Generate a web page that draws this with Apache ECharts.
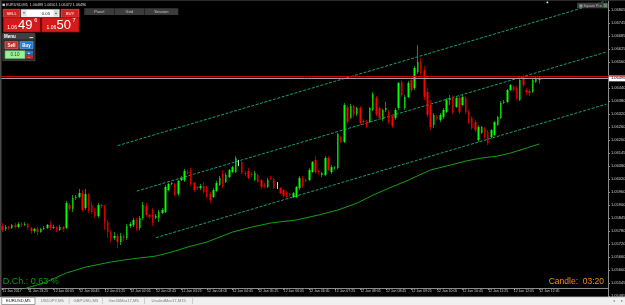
<!DOCTYPE html>
<html><head><meta charset="utf-8">
<script src="https://cdn.jsdelivr.net/npm/echarts@6/dist/echarts.min.js"></script>
<style>html,body{margin:0;padding:0;background:#000;}#c{width:625px;height:305px;}</style>
</head><body><div id="c"></div>
<script>
// ---------------- DATA ----------------
const symbolName = 'EURUSD,M5';
const headerOHLC = ['1.06489', '1.06501', '1.06472', '1.06496'];
const bidPrice = 1.06496;
const askPrice = 1.06507;

const xTickLabels = ['11 Jan 2017','11 Jan 23:25','12 Jan 00:05','12 Jan 00:45','12 Jan 01:25','12 Jan 02:05','12 Jan 02:45','12 Jan 03:25','12 Jan 04:05','12 Jan 04:45','12 Jan 05:25','12 Jan 06:05','12 Jan 06:45','12 Jan 07:25','12 Jan 08:05','12 Jan 08:45','12 Jan 09:25','12 Jan 10:05','12 Jan 10:45','12 Jan 11:25','12 Jan 12:05','12 Jan 12:45'];
const yTickLabels = ['1.05485','1.05545','1.05600','1.05660','1.05720','1.05780','1.05845','1.05900','1.05960','1.06020','1.06080','1.06145','1.06200','1.06260','1.06320','1.06380','1.06440','1.06500','1.06560','1.06625','1.06685','1.06745','1.06805'];
const yMin = 1.054905, yMax = 1.068534, yStep = 0.0006;

const opens = [
1.05814,1.05800,1.05809,1.05805,1.05819,1.05809,1.05823,1.05819,1.05823,1.05805,
1.05791,1.05800,1.05786,1.05800,1.05805,1.05819,1.05805,1.05809,1.05795,1.05809,
1.05805,1.05911,1.05892,1.05943,1.05948,1.05966,1.05897,1.05962,1.05911,1.05879,
1.05860,1.05911,1.05906,1.05832,1.05786,1.05758,1.05768,1.05740,1.05768,1.05758,
1.05814,1.05819,1.05842,1.05805,1.05851,1.05906,1.05865,1.05888,1.05851,1.05851,
1.05874,1.05879,1.05980,1.06008,1.06008,1.05962,1.06026,1.06026,1.06063,1.06073,
1.06013,1.05994,1.05989,1.05999,1.05994,1.05962,1.05948,1.05976,1.06003,1.06054,
1.06017,1.06040,1.06063,1.06063,1.06105,1.06110,1.06059,1.06068,1.06054,1.06026,
1.06050,1.06026,1.06003,1.05994,1.06036,1.06031,1.06008,1.05989,1.05980,1.05971,
1.05962,1.05948,1.05948,1.05989,1.06036,1.06026,1.06026,1.06063,1.06119,1.06068,
1.06050,1.06050,1.06128,1.06063,1.06082,1.06082,1.06225,1.06202,1.06364,1.06313,
1.06368,1.06331,1.06359,1.06299,1.06294,1.06294,1.06350,1.06405,1.06359,1.06308,
1.06350,1.06341,1.06322,1.06313,1.06359,1.06479,1.06359,1.06410,1.06488,1.06451,
1.06525,1.06572,1.06535,1.06433,1.06373,1.06280,1.06317,1.06304,1.06317,1.06341,
1.06396,1.06405,1.06364,1.06405,1.06373,1.06405,1.06341,1.06313,1.06294,1.06211,
1.06244,1.06267,1.06248,1.06225,1.06234,1.06280,1.06313,1.06382,1.06387,1.06442,
1.06456,1.06451,1.06396,1.06502,1.06442,1.06438,1.06433,1.06479,1.06489];
const highs = [
1.05828,1.05819,1.05814,1.05823,1.05828,1.05832,1.05832,1.05832,1.05828,1.05809,
1.05805,1.05809,1.05805,1.05814,1.05823,1.05837,1.05819,1.05814,1.05819,1.05814,
1.05930,1.05920,1.05957,1.05957,1.05985,1.05980,1.05985,1.05966,1.05925,1.05897,
1.05920,1.05916,1.05911,1.05842,1.05795,1.05786,1.05777,1.05782,1.05777,1.05823,
1.05832,1.05851,1.05851,1.05860,1.05925,1.05920,1.05869,1.05897,1.05869,1.05888,
1.05897,1.06003,1.06013,1.06017,1.06013,1.06026,1.06045,1.06077,1.06073,1.06082,
1.06017,1.05999,1.06008,1.06017,1.05999,1.05971,1.05989,1.06022,1.06045,1.06073,
1.06059,1.06077,1.06091,1.06137,1.06119,1.06119,1.06068,1.06082,1.06063,1.06068,
1.06054,1.06031,1.06013,1.06036,1.06045,1.06036,1.06017,1.05994,1.05985,1.05976,
1.05966,1.05971,1.05999,1.06045,1.06045,1.06036,1.06082,1.06114,1.06137,1.06073,
1.06063,1.06137,1.06137,1.06096,1.06091,1.06244,1.06230,1.06382,1.06373,1.06378,
1.06373,1.06364,1.06368,1.06308,1.06304,1.06364,1.06433,1.06415,1.06368,1.06354,
1.06387,1.06350,1.06331,1.06359,1.06479,1.06488,1.06419,1.06484,1.06498,1.06553,
1.06650,1.06590,1.06553,1.06451,1.06396,1.06336,1.06327,1.06336,1.06359,1.06405,
1.06419,1.06415,1.06410,1.06415,1.06419,1.06415,1.06350,1.06322,1.06304,1.06280,
1.06276,1.06271,1.06257,1.06262,1.06299,1.06322,1.06391,1.06396,1.06447,1.06470,
1.06465,1.06461,1.06498,1.06512,1.06451,1.06447,1.06493,1.06502,1.06501];
const lows = [
1.05786,1.05791,1.05795,1.05800,1.05800,1.05805,1.05809,1.05814,1.05795,1.05777,
1.05782,1.05772,1.05782,1.05795,1.05800,1.05795,1.05800,1.05786,1.05791,1.05786,
1.05800,1.05883,1.05879,1.05934,1.05943,1.05879,1.05888,1.05874,1.05869,1.05851,
1.05851,1.05897,1.05795,1.05758,1.05740,1.05749,1.05712,1.05726,1.05745,1.05749,
1.05805,1.05809,1.05791,1.05795,1.05842,1.05856,1.05846,1.05814,1.05846,1.05832,
1.05869,1.05874,1.05976,1.06003,1.05953,1.05953,1.06022,1.06017,1.06054,1.05999,
1.05971,1.05980,1.05980,1.05962,1.05943,1.05920,1.05943,1.05971,1.05999,1.05989,
1.06013,1.06036,1.06059,1.06059,1.06091,1.06054,1.06045,1.06031,1.06040,1.06022,
1.06013,1.05985,1.05989,1.05989,1.06026,1.05985,1.05985,1.05962,1.05948,1.05943,
1.05948,1.05943,1.05943,1.05980,1.05989,1.06017,1.06022,1.06059,1.06054,1.06050,
1.06040,1.06045,1.06068,1.06054,1.06073,1.06077,1.06197,1.06197,1.06285,1.06308,
1.06317,1.06322,1.06280,1.06280,1.06267,1.06290,1.06345,1.06322,1.06304,1.06299,
1.06341,1.06285,1.06267,1.06304,1.06350,1.06410,1.06350,1.06405,1.06433,1.06442,
1.06516,1.06512,1.06396,1.06317,1.06257,1.06267,1.06304,1.06294,1.06308,1.06336,
1.06373,1.06331,1.06359,1.06331,1.06368,1.06331,1.06285,1.06257,1.06248,1.06202,
1.06239,1.06216,1.06188,1.06220,1.06230,1.06276,1.06308,1.06378,1.06382,1.06438,
1.06438,1.06396,1.06391,1.06456,1.06419,1.06415,1.06428,1.06475,1.06472];
const closes = [
1.05795,1.05809,1.05805,1.05819,1.05809,1.05823,1.05819,1.05823,1.05805,1.05791,
1.05800,1.05786,1.05800,1.05805,1.05819,1.05805,1.05809,1.05795,1.05809,1.05800,
1.05920,1.05892,1.05943,1.05948,1.05966,1.05888,1.05962,1.05883,1.05879,1.05860,
1.05911,1.05906,1.05832,1.05786,1.05758,1.05768,1.05740,1.05768,1.05758,1.05814,
1.05823,1.05842,1.05805,1.05851,1.05911,1.05865,1.05856,1.05828,1.05860,1.05879,
1.05888,1.05994,1.06008,1.06013,1.05957,1.06022,1.06036,1.06068,1.06059,1.06008,
1.05980,1.05989,1.05999,1.05971,1.05948,1.05934,1.05980,1.06013,1.06036,1.05999,
1.06050,1.06073,1.06086,1.06128,1.06105,1.06059,1.06054,1.06036,1.06050,1.06059,
1.06017,1.05994,1.05999,1.06026,1.06031,1.05989,1.06008,1.05966,1.05953,1.05948,
1.05957,1.05966,1.05994,1.06036,1.05999,1.06022,1.06073,1.06110,1.06063,1.06063,
1.06059,1.06128,1.06073,1.06086,1.06084,1.06239,1.06202,1.06373,1.06294,1.06368,
1.06327,1.06359,1.06290,1.06294,1.06271,1.06359,1.06424,1.06331,1.06313,1.06350,
1.06359,1.06294,1.06276,1.06350,1.06475,1.06419,1.06410,1.06475,1.06442,1.06544,
1.06572,1.06521,1.06410,1.06327,1.06271,1.06327,1.06313,1.06327,1.06350,1.06396,
1.06405,1.06341,1.06405,1.06341,1.06410,1.06341,1.06290,1.06267,1.06257,1.06271,
1.06271,1.06225,1.06197,1.06257,1.06294,1.06317,1.06382,1.06387,1.06442,1.06465,
1.06442,1.06405,1.06488,1.06465,1.06433,1.06428,1.06488,1.06493,1.06496];

// moving average, read at sampled bars: [barIndex, price]
const maPoints = [[7,1.05525],[13,1.05551],[20,1.05597],[26,1.05624],[34,1.05648],[40,1.05661],[48,1.05675],[53,1.05694],[58,1.05717],[64,1.05740],[72,1.05786],[78,1.05809],[84,1.05828],[92,1.05842],[99,1.05865],[105,1.05888],[111,1.05920],[116,1.05957],[121,1.05989],[127,1.06026],[134,1.06073],[139,1.06091],[145,1.06114],[150,1.06128],[155,1.06137],[159,1.06151],[164,1.06174],[168,1.06193]];
// channel trend lines: [barIndex, price] endpoints
const channelUpper = [[36,1.06185],[189,1.06854]];
const channelMiddle = [[42,1.05975],[189,1.06618]];
const channelLower = [[48,1.05760],[189,1.06377]];

const tabNames = ['EURUSD,M5','USDJPY,M5','GBPUSD,M5','Ger30Mar17,M5','UsaIndMar17,M15'];

// ---------------- BUILD ----------------
const nSlots = 190;
const categories = [];
const t0 = Date.UTC(2017,0,11,22,45);
for (let i = 0; i < nSlots; i++) {
  const d = new Date(t0 + i*300000);
  categories.push(String(d.getUTCHours()).padStart(2,'0') + ':' + String(d.getUTCMinutes()).padStart(2,'0'));
}
const wickData = opens.map((o,i)=>[o, closes[i], lows[i], highs[i]]);
const bodyData = opens.map((o,i)=>[o, closes[i], Math.min(o,closes[i]), Math.max(o,closes[i])]);

const FF = '"Liberation Sans", Arial, sans-serif';
function txt(x,y,text,fill,size,align,weight){
  return {type:'text', x:x, y:y, z:60, silent:true, style:{text:text, fill:fill, fontSize:size, fontFamily:FF, fontWeight:weight||'normal',
    font:(weight||'normal')+' '+size+'px '+FF, align:align||'left', textAlign:align||'left', verticalAlign:'middle', textVerticalAlign:'middle'}};
}
function rect(x,y,w,h,fill,stroke,lw){
  return {type:'rect', z:55, silent:true, shape:{x:x,y:y,width:w,height:h}, style:{fill:fill, stroke:stroke||null, lineWidth:stroke?(lw||0.6):0}};
}

const chart = echarts.init(document.getElementById('c'), null, {renderer:'canvas', width:625, height:305});
const lineSeries = (data, color, dash) => ({type:'line', data:data, symbol:'none', silent:true, z:1,
  lineStyle:{color:color, width:1, type:dash||'solid'}, animation:false});

const priceLines = {type:'line', data:[], symbol:'none', silent:true, z:2, animation:false,
  markLine:{symbol:['none','none'], silent:true, animation:false, precision:5,
    data:[
      {yAxis:askPrice, lineStyle:{color:'#d00000', width:1, type:'solid'}, label:{show:false}},
      {yAxis:bidPrice, lineStyle:{color:'#9c9c9c', width:1, type:'solid'},
        label:{show:true, position:'end', formatter:bidPrice.toFixed(5), color:'#000', backgroundColor:'#ffffff',
          fontSize:4, fontFamily:FF, padding:[1,2,1,2], distance:1}}
    ]}};

chart.setOption({
  animation:false,
  backgroundColor:'#000000',
  grid:{left:1, right:17, top:1, bottom:9, containLabel:false, outerBoundsMode:'none'},
  xAxis:{type:'category', data:categories, boundaryGap:true, offset:-8,
    axisLine:{lineStyle:{color:'#8c8c8c', width:1}},
    axisTick:{show:true, length:2, alignWithLabel:true, interval:(i)=> i%8===0 && i<=168, lineStyle:{color:'#8c8c8c'}},
    axisLabel:{interval:(i)=> i%8===0 && i<=168, color:'#cfcfcf', fontSize:3.5, fontFamily:FF, align:'left', margin:1.5,
      formatter:(v,i)=> (i%8===0 && xTickLabels[i/8]) ? xTickLabels[i/8] : ''},
    splitLine:{show:false}},
  yAxis:{type:'value', position:'right', min:yMin, max:yMax, interval:yStep,
    axisLine:{show:true, lineStyle:{color:'#8c8c8c', width:1}},
    axisTick:{show:true, length:2, lineStyle:{color:'#8c8c8c'}},
    axisLabel:{color:'#cfcfcf', fontSize:4, fontFamily:FF, margin:3, showMaxLabel:false,
      formatter:(v)=>{ const k = Math.round((v - yMin)/yStep); if (k===17) return ''; return yTickLabels[k] || ''; }},
    splitLine:{show:false}},
  series:[
    lineSeries(channelUpper,'#169e78',[3,1.5]),
    lineSeries(channelMiddle,'#169e78',[3,1.5]),
    lineSeries(channelLower,'#169e78',[3,1.5]),
    lineSeries(maPoints,'#12a012'),
    priceLines,
    {type:'candlestick', name:'wick', data:wickData, barWidth:1, z:3, silent:true,
      itemStyle:{color:'#119011', color0:'#a00000', borderColor:'#119011', borderColor0:'#a00000', borderColorDoji:'#d8d8d8', borderWidth:1}},
    {type:'candlestick', name:'body', data:bodyData, barWidth:2, z:4, silent:true,
      itemStyle:{color:'#00ff00', color0:'#ff0000', borderColor:'#00ff00', borderColor0:'#ff0000', borderColorDoji:'#d8d8d8', borderWidth:0}}
  ]
});

const askY = chart.convertToPixel({yAxisIndex:0}, askPrice);
const G = [];
// frame
G.push(rect(0,0,1.5,296,'#4a4a4a'));
G.push(rect(0,0,625,0.8,'#3a3a3a'));
G.push({type:'line', z:56, silent:true, shape:{x1:608,y1:askY,x2:625,y2:askY}, style:{stroke:'#d00000', lineWidth:1}});
// header
G.push(rect(2.5,3.6,2.4,2.4,'#cfcfcf'));
G.push(txt(6,4.9, symbolName + '  ' + headerOHLC.join(' '), '#d8d8d8', 3.7));
// one click panel
G.push(rect(3.3,9.3,16.7,8,'#d42222','#ee6a6a'));
G.push(txt(11.65,13.4,'SELL','#ffffff',4.2,'center'));
G.push(rect(21,9.3,38.5,8,'#ffffff','#8a8a8a'));
G.push(rect(21.6,10,5,6.6,'#e4e4e4'));
G.push(txt(24.1,13.4,'▼','#444',3,'center'));
G.push(txt(50,13.4,'0.05','#222',4.2,'right'));
G.push(rect(53.6,10,5,6.6,'#dcdcdc'));
G.push(txt(56.1,13.4,'▲','#444',3,'center'));
G.push(rect(61,9.3,18,8,'#d42222','#ee6a6a'));
G.push(txt(70,13.4,'BUY','#ffffff',4.2,'center'));
G.push(rect(3.3,17.7,37,14.3,'#d41a1a','#a80000'));
G.push(rect(41.7,17.7,37.3,14.3,'#d41a1a','#a80000'));
G.push(txt(7.2,27.6,'1.06','#ffffff',5));
G.push(txt(18,25.2,'49','#ffffff',13));
G.push(txt(34.2,20.8,'6','#ffffff',5.5));
G.push(txt(46.5,27.6,'1.06','#ffffff',5));
G.push(txt(56.5,25.2,'50','#ffffff',13));
G.push(txt(72.6,20.8,'7','#ffffff',5.5));
// Panel / Grid / Session bar
G.push(rect(84.3,8.3,94,6.7,'#3b3b3b'));
G.push(rect(114,8.3,0.8,6.7,'#1c1c1c'));
G.push(rect(144,8.3,0.8,6.7,'#1c1c1c'));
G.push(txt(99.3,11.7,'Panel','#c4c4c4',4,'center'));
G.push(txt(129.3,11.7,'Grid','#c4c4c4',4,'center'));
G.push(txt(161.3,11.7,'Session','#c4c4c4',4,'center'));
// Menu panel
G.push(rect(2.7,33.3,32.3,27.4,'#2c2c2c','#555555'));
G.push(rect(2.7,33.3,32.3,6,'#404040'));
G.push(txt(4,36.4,'Menu','#ffffff',4.5,'left','bold'));
G.push(rect(29.5,37.2,3.6,0.9,'#ffffff'));
G.push(rect(5,41.7,13,7,'#c62828','#ef8080'));
G.push(txt(11.5,45.3,'Sell','#ffffff',4.5,'center','bold'));
G.push(rect(20,41.7,13,7,'#1e78d2','#7cbcf4'));
G.push(txt(26.5,45.3,'Buy','#ffffff',4.5,'center','bold'));
G.push(rect(5,50.7,20,8,'#9cf09c','#4caf50'));
G.push(txt(15,54.8,'0.10','#333333',4.5,'center'));
G.push(rect(25,50.7,8,4,'#1e78d2'));
G.push(txt(29,52.7,'+','#ffffff',4,'center','bold'));
G.push(rect(25,54.7,8,4,'#c62828'));
G.push(txt(29,56.7,'-','#ffffff',4,'center','bold'));
// Square Pro box and small marker
G.push(rect(577,2.7,31,5.6,'#3c3c3c'));
G.push(txt(578.5,5.6,'▦ Square Pro','#bdbdbd',3.6));
G.push(rect(603.5,3.4,3.6,4,'#5c8c5c'));
G.push(rect(546.6,1.6,1.6,1.6,'#ffffff'));
// indicators text
G.push(txt(2.7,281.8,'D.Ch.: 0.63 %','#129a12',9));
G.push(txt(604,282,'Candle:  03:20','#ff8c00',8.5,'right'));
// tab strip
G.push(rect(0,297,625,8,'#f0f0f0'));
G.push(rect(0,296.6,625,0.7,'#a0a0a0'));
const tabX = [[1.7,35],[36,68.5],[70,101.8],[103.3,144],[145.7,191.7]];
tabNames.forEach((n,i)=>{
  const [a,b] = tabX[i];
  if (i===0) G.push(rect(a,297.3,b-a,7.2,'#ffffff','#7a7a7a',0.7));
  else G.push(rect(b+0.3,298,0.6,6,'#b4b4b4'));
  G.push(txt((a+b)/2,301.2,n, i===0?'#111111':'#7a7a7a',4.2,'center'));
});
G.push(txt(613.5,301.2,'◂','#888',4,'center'));
G.push(txt(621.5,301.2,'▸','#888',4,'center'));

chart.setOption({graphic:{elements:G}});
</script>
</body></html>
